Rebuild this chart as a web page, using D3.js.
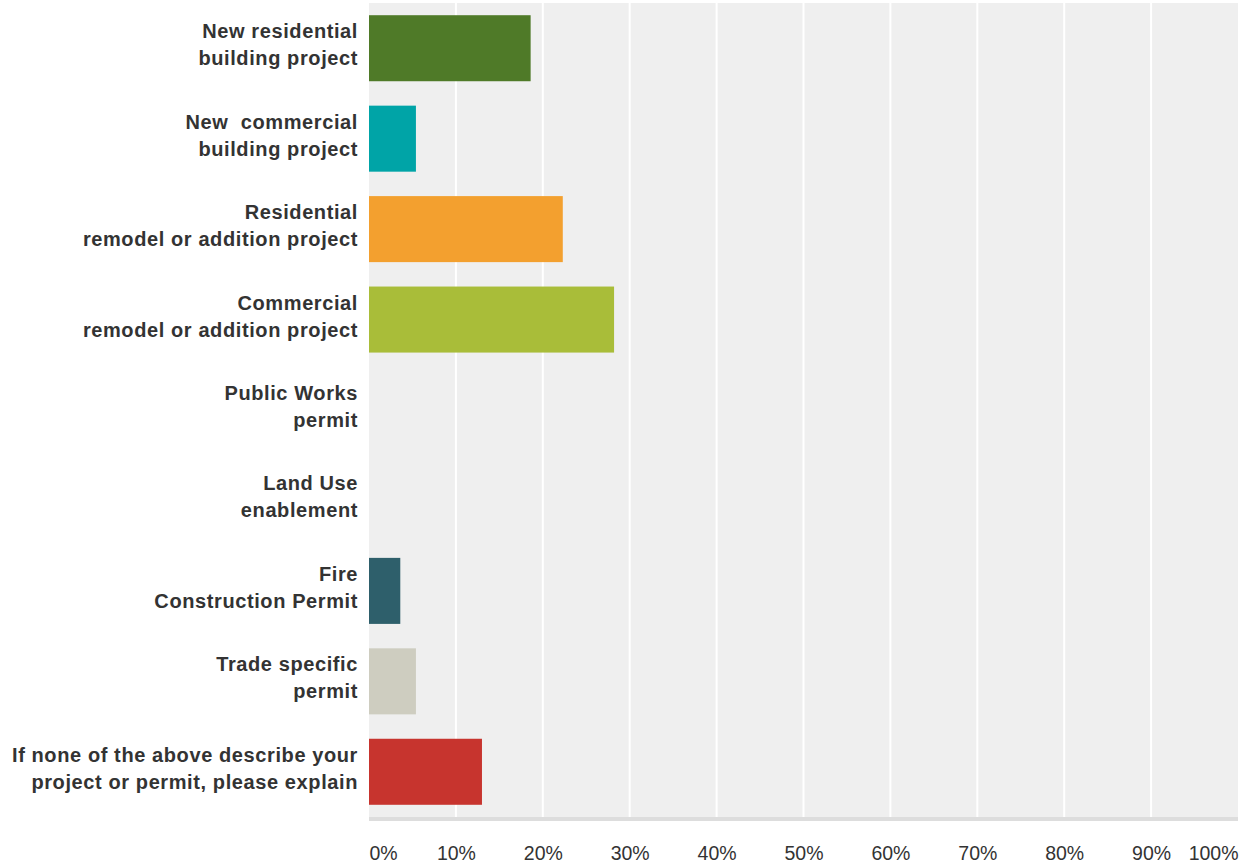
<!DOCTYPE html>
<html>
<head>
<meta charset="utf-8">
<script src="https://cdn.jsdelivr.net/npm/d3@7"></script>
<style>
  html, body { margin: 0; padding: 0; background: #fff; }
  svg { display: block; }
  svg text { font-family: Arial, "Liberation Sans", Helvetica, sans-serif; }
</style>
</head>
<body>
<svg id="chart" width="1243" height="866"></svg>
<script>
// Answer options (each label wrapped into two lines)
const categories = [
  "New residential|building project",
  "New  commercial|building project",
  "Residential|remodel or addition project",
  "Commercial|remodel or addition project",
  "Public Works|permit",
  "Land Use|enablement",
  "Fire|Construction Permit",
  "Trade specific|permit",
  "If none of the above describe your|project or permit, please explain"
];
// Share of respondents (%)
const values = [18.6, 5.4, 22.3, 28.2, 0, 0, 3.6, 5.4, 13.0];
const barColors = ["#4f7a28", "#00a4a7", "#f3a02f", "#a9bd39", "#66a3c7", "#8e6bb3", "#2e5f6b", "#cecdc0", "#c7342e"];
const tickValues = [0, 10, 20, 30, 40, 50, 60, 70, 80, 90, 100];

const svg = d3.select("#chart");
const plot = { left: 369, right: 1238, top: 3, bottom: 817 };

const x = d3.scaleLinear().domain([0, 100]).range([plot.left, plot.right]);
const y = d3.scaleBand()
  .domain(categories)
  .range([plot.top, plot.bottom])
  .paddingInner(0.27)
  .paddingOuter(0.135);

// Plot background
svg.append("rect")
  .attr("x", plot.left).attr("y", plot.top)
  .attr("width", plot.right - plot.left)
  .attr("height", plot.bottom - plot.top)
  .attr("fill", "#efefef");

// Vertical gridlines
svg.append("g")
  .selectAll("line")
  .data(tickValues.filter(t => t > 0 && t < 100))
  .join("line")
  .attr("x1", d => x(d)).attr("x2", d => x(d))
  .attr("y1", plot.top).attr("y2", plot.bottom)
  .attr("stroke", "#ffffff")
  .attr("stroke-width", 2);

// Bars
svg.append("g")
  .selectAll("rect")
  .data(values)
  .join("rect")
  .attr("x", x(0))
  .attr("y", (d, i) => y(categories[i]))
  .attr("width", d => x(d) - x(0))
  .attr("height", y.bandwidth())
  .attr("fill", (d, i) => barColors[i]);

// Baseline strip under the plot
svg.append("rect")
  .attr("x", plot.left).attr("y", plot.bottom)
  .attr("width", plot.right - plot.left)
  .attr("height", 4)
  .attr("fill", "#dddddd");

// Category labels
const labels = svg.append("g")
  .attr("font-size", 20)
  .attr("font-weight", "bold")
  .attr("letter-spacing", 0.6)
  .attr("fill", "#333333")
  .attr("text-anchor", "end");

categories.forEach(cat => {
  const c = y(cat) + y.bandwidth() / 2;
  const lines = cat.split("|");
  const t = labels.append("text").attr("xml:space", "preserve");
  lines.forEach((ln, i) => {
    t.append("tspan")
      .attr("x", 358)
      .attr("y", c - 10 + i * 27)
      .text(ln);
  });
});

// Percent axis
const axis = d3.axisBottom(x)
  .tickValues(tickValues)
  .tickSize(0)
  .tickPadding(0)
  .tickFormat(d => d + "%");

const gAxis = svg.append("g")
  .attr("transform", `translate(0, ${plot.bottom})`)
  .call(axis)
  .attr("font-family", null);
gAxis.select(".domain").remove();
gAxis.selectAll("text")
  .attr("font-size", 19.5)
  .attr("fill", "#333333")
  .attr("dy", null)
  .attr("y", 42.5)
  .attr("text-anchor", d => d === 0 ? "start" : (d === 100 ? "end" : "middle"));
</script>
</body>
</html>
